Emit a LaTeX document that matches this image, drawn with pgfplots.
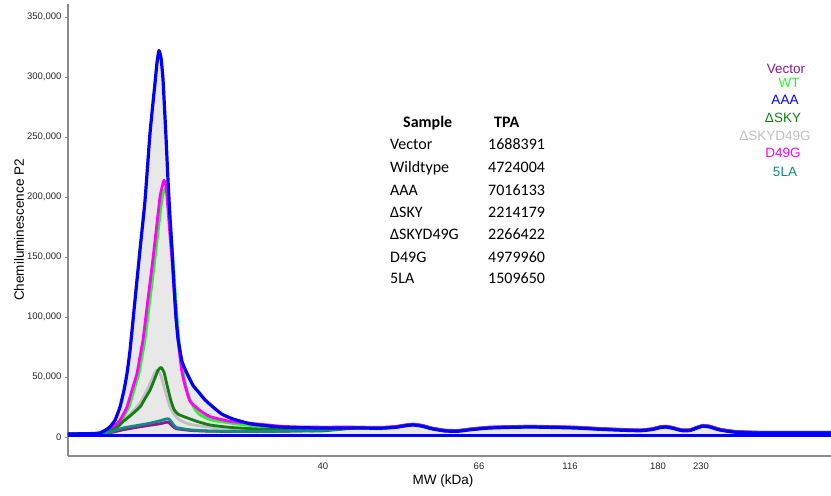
\documentclass[border=0pt]{standalone}
\usepackage{pgfplots}
\pgfplotsset{compat=1.18}
\usepackage{pgfplotstable}
\usepackage{fontspec}
\setmainfont{Liberation Sans}
\newfontfamily\calfont{Carlito}

\definecolor{cVec}{RGB}{139,26,139}
\definecolor{cWT}{RGB}{40,245,40}
\definecolor{cAAA}{RGB}{0,0,255}
\definecolor{cSKY}{RGB}{20,125,20}
\definecolor{cSKYD}{RGB}{192,192,192}
\definecolor{cD49G}{RGB}{255,0,255}
\definecolor{cLA}{RGB}{20,135,135}
\definecolor{cfill}{RGB}{232,232,232}
\definecolor{caxis}{RGB}{140,140,140}

\pgfplotstableread{
x y
68 2500
90 2800
100 3400
106 6000
110 8500
115 14000
120 25000
124 39000
127 53000
130 72000
135 114000
140 156000
145 197000
150 253000
155 295000
157 312000
159 322000
161 316000
163 298000
166 250000
168 214000
170 183000
172 156000
174 126000
176 100000
178 82000
182 63000
187 53000
193 43000
197 39000
205 31000
213 25000
222 19000
233 15000
250 11000
265 9500
280 8300
300 7800
320 7500
355 7500
380 7300
395 8000
405 9300
413 10000
422 9000
432 6800
445 5000
458 4800
470 6000
490 7500
530 8300
575 7500
600 6400
620 5700
640 5200
652 6200
660 7800
666 8300
673 7200
682 5300
690 5400
697 7500
703 9000
710 8300
720 5800
735 4000
760 3300
831 3300
}\tAAA

\pgfplotstableread{
x y
68 2500
90 2700
100 3200
110 6000
115 9500
120 14000
124 20000
127 25000
132 39000
137 53000
140 67000
143 81000
148 115000
151 135000
154 156000
157 178000
160 200000
162 208000
164 214000
166 209000
168 190000
170 168000
172 148000
174 124000
176 100000
178 82000
180 66000
182 54000
185 43000
190 30000
200 22000
210 17000
230 13000
250 11500
280 9000
300 8300
320 8200
355 8200
380 8000
395 8700
405 10000
413 10700
422 9700
432 7500
445 5700
458 5500
470 6700
490 8200
530 9000
575 8200
600 7100
620 6400
640 5900
652 6900
660 8500
666 9000
673 7900
682 6000
690 6100
697 8200
703 9700
710 9000
720 6500
735 4700
760 4000
831 4000
}\tDG

\pgfplotstableread{
x y
68 2500
90 2700
100 3100
110 5500
116 9000
121 13500
125 19000
129 25000
134 39000
139 53000
142 67000
145 81000
150 115000
153 135000
156 156000
159 178000
162 198000
164 205000
166 208000
168 200000
170 182000
172 160000
174 136000
176 112000
178 90000
180 72000
183 55000
186 42000
190 31000
195 23000
200 18500
210 14500
223 12500
240 10500
260 9000
280 8000
300 8000
320 8000
355 8000
380 7800
395 8500
405 9800
413 10500
422 9500
432 7300
445 5500
458 5300
470 6500
490 8000
530 8800
575 8000
600 6900
620 6200
640 5700
652 6700
660 8300
666 8800
673 7700
682 5800
690 5900
697 8000
703 9500
710 8800
720 6300
735 4500
760 3800
831 3800
}\tWT

\pgfplotstableread{
x y
68 2500
100 2800
110 5000
117 8000
123 12800
130 17500
140 25000
145 32000
150 39000
154 47000
158 55500
161 58000
164 54000
166 47000
168 40000
171 30000
174 23000
178 19000
187 16000
197 13000
210 10000
230 8000
250 7000
280 6000
320 5000
355 7500
380 7500
395 8200
405 9500
413 10300
422 9300
432 7100
445 5300
458 5100
470 6300
490 7800
530 8600
575 7800
600 6700
620 6000
640 5500
652 6500
660 8100
666 8600
673 7500
682 5600
690 5700
697 7800
703 9300
710 8600
720 6100
735 4300
760 3600
831 3600
}\tSKY

\pgfplotstableread{
x y
68 2500
100 2800
110 5200
117 8500
123 13500
130 19000
137 25000
142 31000
147 39000
152 48000
155 54000
157 55800
159 54500
161 51000
165 39000
170 25000
175 18000
180 14000
190 10500
213 8000
260 6000
300 5500
355 7800
380 7600
395 8300
405 9600
413 10400
422 9400
432 7200
445 5400
458 5200
470 6400
490 7900
530 8700
575 7900
600 6800
620 6100
640 5600
652 6600
660 8200
666 8700
673 7600
682 5700
690 5800
697 7900
703 9400
710 8700
720 6200
735 4400
760 3700
831 3700
}\tSKYD

\pgfplotstableread{
x y
68 2500
100 3000
110 4000
123 7500
140 10000
150 11500
160 13500
166 15000
169 15000
172 12000
176 8000
190 6000
210 5000
260 4500
320 5500
355 7600
380 7400
395 8100
405 9400
413 10200
422 9200
432 7000
445 5200
458 5000
470 6200
490 7700
530 8500
575 7700
600 6600
620 5900
640 5400
652 6400
660 8000
666 8500
673 7400
682 5500
690 5600
697 7700
703 9200
710 8500
720 6000
735 4200
760 3500
831 3500
}\tLA

\pgfplotstableread{
x y
68 2500
100 2900
110 3500
123 6000
140 8500
150 9800
160 11000
166 12200
169 12000
172 9500
176 7000
190 5500
210 4800
260 4500
320 5500
355 8000
380 7800
395 8500
405 9800
413 10600
422 9600
432 7400
445 5600
458 5400
470 6600
490 8100
530 8900
575 8100
600 7000
620 6300
640 5800
652 6800
660 8400
666 8900
673 7800
682 5900
690 6000
697 8100
703 9600
710 8900
720 6400
735 4600
760 3900
831 3900
}\tVec

\begin{document}
\begin{tikzpicture}
\begin{axis}[
  name=ax, scale only axis, width=763pt, height=452pt,
  xmin=68, xmax=831, ymin=-15833, ymax=360833,
  axis lines*=left,
  axis line style={caxis, line width=1.2pt},
  xtick={323,479,570,658,701},
  xticklabels={40,66,116,180,230},
  x tick style={draw=none},
  ytick={0,50000,100000,150000,200000,250000,300000,350000},
  y tick style={caxis, line width=0.8pt},
  tick align=outside, major tick length=3pt,
  scaled y ticks=false,
  yticklabel style={/pgf/number format/.cd, fixed, 1000 sep={,}},
  /pgf/number format/assume math mode=true,
  tick label style={font=\fontsize{9.5}{10}\selectfont, text=black!85},
  xlabel={MW (kDa)}, ylabel={Chemiluminescence P2},
  label style={font=\fontsize{13.5}{15}\selectfont},
  xlabel style={at={(axis description cs:0.5,0)}, anchor=center, xshift=-6.5pt, yshift=-25pt},
  ylabel style={at={(axis description cs:-0.0642,0.5)}, anchor=center},
  every axis plot/.append style={line join=round, line cap=round, smooth, tension=0.3},
]
\addplot[fill=cfill, draw=none, forget plot] table {\tAAA} \closedcycle;
\addplot[cSKYD, line width=2.8pt] table {\tSKYD};
\addplot[cVec, line width=2.8pt] table {\tVec};
\addplot[cWT, line width=2.8pt] table {\tWT};
\addplot[cD49G, line width=2.8pt] table {\tDG};
\addplot[cSKY, line width=2.8pt] table {\tSKY};
\addplot[cLA, line width=2.8pt] table {\tLA};
\addplot[cAAA, line width=3.2pt] table {\tAAA};
\addplot[cAAA, line width=3pt, sharp plot] coordinates {(68,1000) (831,1000)};
\end{axis}

% legend
\begin{scope}[every node/.style={inner sep=0pt, anchor=base, font=\fontsize{13.5}{15}\selectfont}]
\node[text=cVec]  at ([xshift=718pt,yshift=-69.8pt]ax.north west) {Vector};
\node[text=cWT]   at ([xshift=721pt,yshift=-83.8pt]ax.north west) {WT};
\node[text=cAAA]  at ([xshift=717pt,yshift=-100.8pt]ax.north west) {AAA};
\node[text=cSKY]  at ([xshift=715pt,yshift=-118.8pt]ax.north west) {ΔSKY};
\node[text=cSKYD] at ([xshift=707pt,yshift=-136.8pt]ax.north west) {ΔSKYD49G};
\node[text=cD49G] at ([xshift=715pt,yshift=-153.8pt]ax.north west) {D49G};
\node[text=cLA]   at ([xshift=717pt,yshift=-172.8pt]ax.north west) {5LA};
\end{scope}

% TPA table
\begin{scope}[every node/.style={inner sep=0pt, anchor=base west, font=\calfont\fontsize{16}{18}\selectfont}]
\node at ([xshift=335pt,yshift=-123.2pt]ax.north west) {\bfseries Sample};
\node at ([xshift=426pt,yshift=-123.2pt]ax.north west) {\bfseries TPA};
\node at ([xshift=322pt,yshift=-145.2pt]ax.north west) {Vector};
\node at ([xshift=420pt,yshift=-145.2pt]ax.north west) {1688391};
\node at ([xshift=322pt,yshift=-168.2pt]ax.north west) {Wildtype};
\node at ([xshift=420pt,yshift=-168.2pt]ax.north west) {4724004};
\node at ([xshift=322pt,yshift=-191.2pt]ax.north west) {AAA};
\node at ([xshift=420pt,yshift=-191.2pt]ax.north west) {7016133};
\node at ([xshift=322pt,yshift=-213.2pt]ax.north west) {ΔSKY};
\node at ([xshift=420pt,yshift=-213.2pt]ax.north west) {2214179};
\node at ([xshift=322pt,yshift=-235.2pt]ax.north west) {ΔSKYD49G};
\node at ([xshift=420pt,yshift=-235.2pt]ax.north west) {2266422};
\node at ([xshift=322pt,yshift=-258.2pt]ax.north west) {D49G};
\node at ([xshift=420pt,yshift=-258.2pt]ax.north west) {4979960};
\node at ([xshift=322pt,yshift=-279.2pt]ax.north west) {5LA};
\node at ([xshift=420pt,yshift=-279.2pt]ax.north west) {1509650};
\end{scope}

\pgfresetboundingbox
\path ([xshift=-68pt,yshift=-40pt]ax.south west) rectangle ([yshift=4pt]ax.north east);
\end{tikzpicture}
\end{document}
